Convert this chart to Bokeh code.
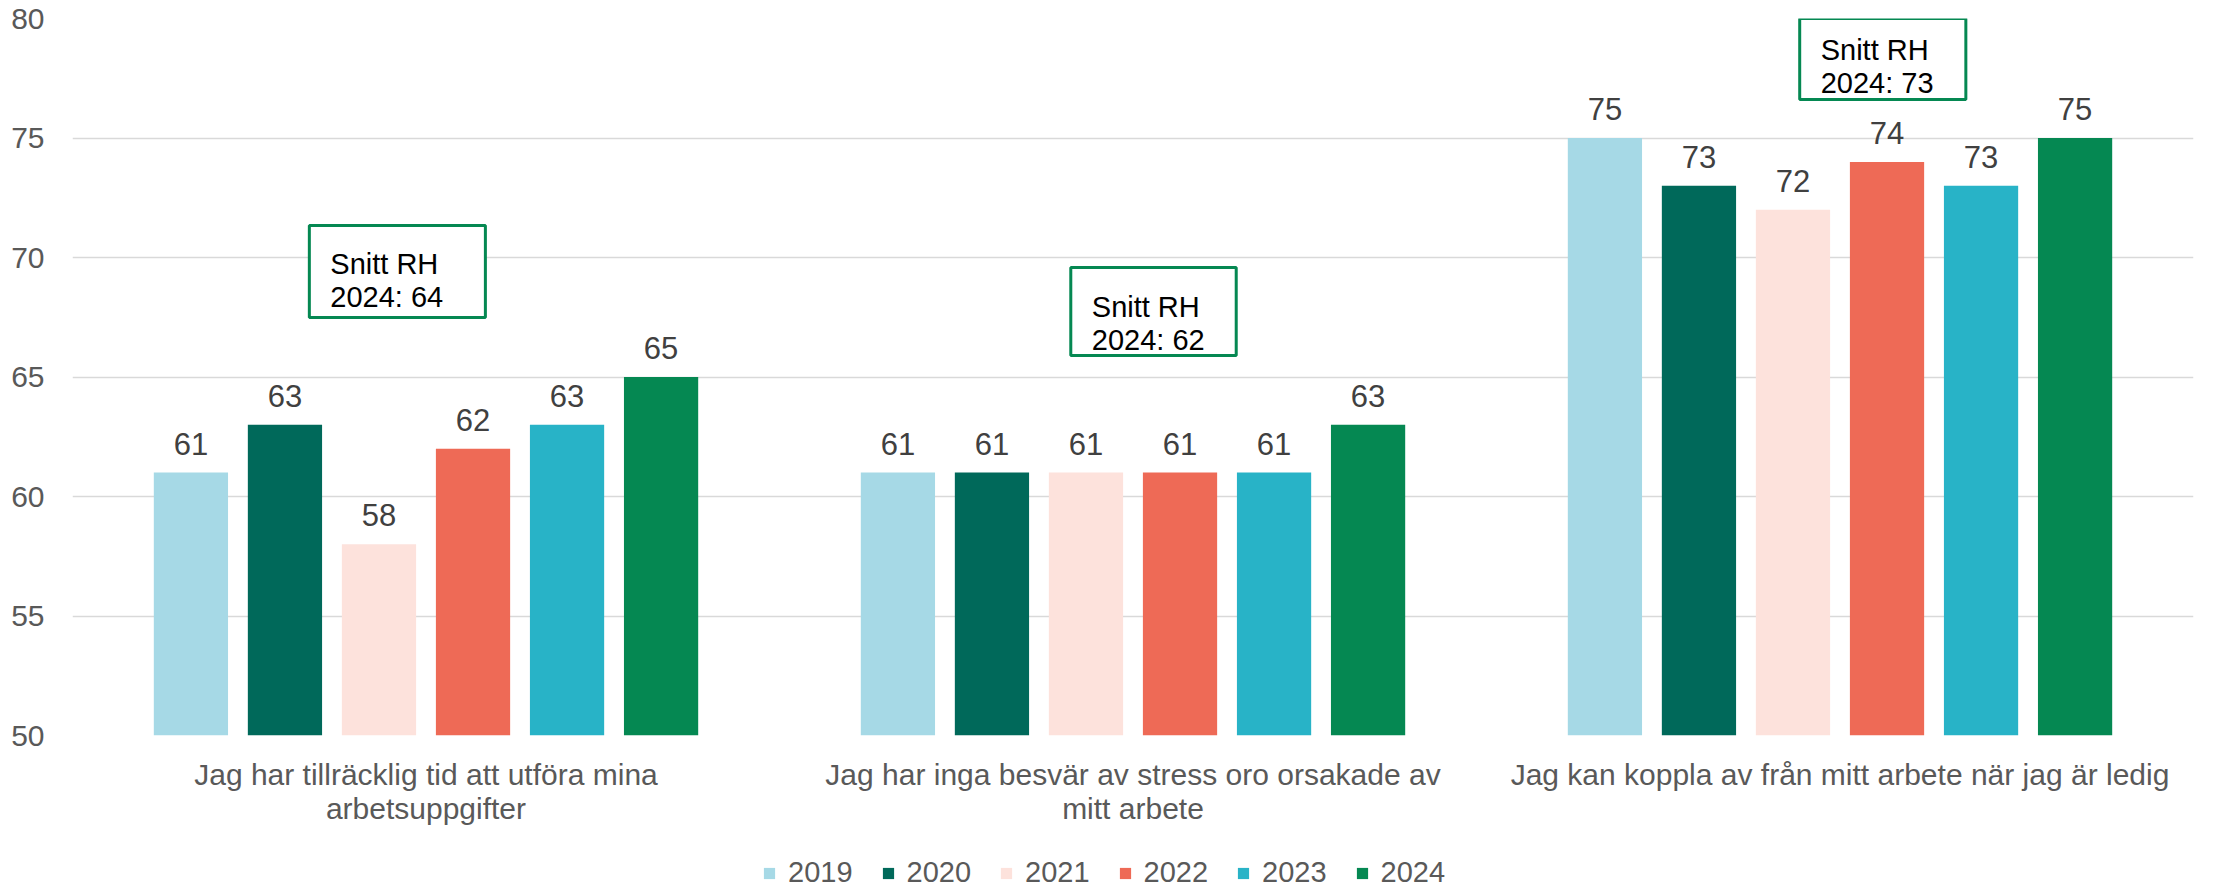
from bokeh.plotting import figure
from bokeh.layouts import column
from bokeh.models import (ColumnDataSource, FactorRange, Range1d, LabelSet, Label,
                          BoxAnnotation, Legend, LegendItem, FixedTicker)
from bokeh.core.properties import value
from bokeh.transform import dodge
from bokeh.embed import file_html
from bokeh.resources import INLINE

# ---------------- data ----------------
categories = [
    "Jag har tillräcklig tid att utföra mina\narbetsuppgifter",
    "Jag har inga besvär av stress oro orsakade av\nmitt arbete",
    "Jag kan koppla av från mitt arbete när jag är ledig",
]
years = ["2019", "2020", "2021", "2022", "2023", "2024"]
v2019 = [61, 61, 75]
v2020 = [63, 61, 73]
v2021 = [58, 61, 72]
v2022 = [62, 61, 74]
v2023 = [63, 61, 73]
v2024 = [65, 63, 75]
snitt_rh_2024 = [64, 62, 73]
y_ticks = [50, 55, 60, 65, 70, 75, 80]

series = [v2019, v2020, v2021, v2022, v2023, v2024]
colors = ["#A6D9E6", "#00695A", "#FDE2DC", "#EE6A56", "#28B3C7", "#058852"]

FONT = "Liberation Sans"

src_data = {"cat": categories}
for y, vals in zip(years, series):
    src_data["y" + y] = vals
    src_data["t" + y] = [str(v) for v in vals]
source = ColumnDataSource(src_data)

xr = FactorRange(*categories, range_padding=0, factor_padding=0)

p = figure(
    x_range=xr,
    y_range=Range1d(50, 80),
    frame_width=2121, frame_height=717,
    min_border_left=72, min_border_right=15, min_border_top=18, min_border_bottom=104,
    output_backend="svg", toolbar_location=None,
)
p.outline_line_color = None
p.background_fill_color = "white"
p.border_fill_color = "white"

# axes
p.yaxis.ticker = FixedTicker(ticks=y_ticks)
p.yaxis.axis_line_color = None
p.yaxis.major_tick_line_color = None
p.yaxis.minor_tick_line_color = None
p.yaxis.major_tick_out = 0
p.yaxis.major_label_standoff = 28
p.yaxis.major_label_text_font = FONT
p.yaxis.major_label_text_font_size = "30px"
p.yaxis.major_label_text_color = "#595959"

p.xaxis.axis_line_color = None
p.xaxis.major_tick_line_color = None
p.xaxis.minor_tick_line_color = None
p.xaxis.major_tick_out = 0
p.xaxis.major_label_standoff = 22
p.xaxis.major_label_text_font = FONT
p.xaxis.major_label_text_font_size = "30px"
p.xaxis.major_label_text_color = "#595959"
p.xaxis.major_label_text_line_height = 1.05

p.xgrid.grid_line_color = None
p.ygrid.grid_line_color = "#D9D9D9"
p.ygrid.grid_line_width = 1.5

step = 0.133
bar_w = 0.105
for i, (y, c) in enumerate(zip(years, colors)):
    off = (i - 2.5) * step
    p.vbar(x=dodge("cat", off, range=xr), top="y" + y, bottom=50,
           width=bar_w, source=source, fill_color=c, line_color=None)
    labels = LabelSet(x=dodge("cat", off, range=xr), y="y" + y, text="t" + y,
                      source=source, text_align="center", text_baseline="alphabetic",
                      y_offset=18, text_font=value(FONT), text_font_size=value("31px"),
                      text_color=value("#404040"))
    p.add_layout(labels)

# annotation boxes "Snitt RH 2024"
box_pos = [  # (left, right, top, bottom, text offset from top) in chart coordinates
    (0.335, 0.584, 71.34, 67.49, 39),
    (1.412, 1.646, 69.58, 65.90, 39),
    (2.443, 2.678, 80.0, 76.61, 31),
]
for (l, r_, t, b, dy), val in zip(box_pos, snitt_rh_2024):
    p.add_layout(BoxAnnotation(left=l, right=r_, top=t, bottom=b,
                               fill_color="white", fill_alpha=1.0,
                               line_color="#058852", line_width=3, line_alpha=1.0,
                               level="overlay"))
    p.add_layout(Label(x=l, y=t, x_offset=21, y_offset=-dy, text="Snitt RH",
                       text_font=FONT, text_font_size="29px", text_color="black",
                       text_baseline="alphabetic", level="overlay"))
    p.add_layout(Label(x=l, y=t, x_offset=21, y_offset=-(dy + 33), text=f"2024: {val}",
                       text_font=FONT, text_font_size="29px", text_color="black",
                       text_baseline="alphabetic", level="overlay"))

# legend in its own strip below the chart (same series, zero-width so only the key shows)
pl = figure(x_range=xr, y_range=Range1d(0, 1),
            frame_width=2121, frame_height=48,
            min_border_left=72, min_border_right=15, min_border_top=0, min_border_bottom=0,
            x_axis_type=None, y_axis_type=None,
            output_backend="svg", toolbar_location=None)
pl.outline_line_color = None
pl.xgrid.grid_line_color = None
pl.ygrid.grid_line_color = None
items = []
for i, (y, c) in enumerate(zip(years, colors)):
    off = (i - 2.5) * step
    rr = pl.vbar(x=dodge("cat", off, range=xr), top="y" + y, bottom=50,
                 width=0, source=source, fill_color=c, line_color=None)
    items.append(LegendItem(label=y, renderers=[rr], index=0))
legend = Legend(items=items, orientation="horizontal", location=(690, -2),
                glyph_width=14, glyph_height=14, label_standoff=12, spacing=28,
                padding=0, margin=0, border_line_color=None,
                background_fill_alpha=0,
                label_text_font=FONT, label_text_font_size="29px",
                label_text_color="#595959")
pl.add_layout(legend, "center")

layout = column(p, pl, spacing=0)
open("out.html", "w").write(file_html(layout, INLINE))
